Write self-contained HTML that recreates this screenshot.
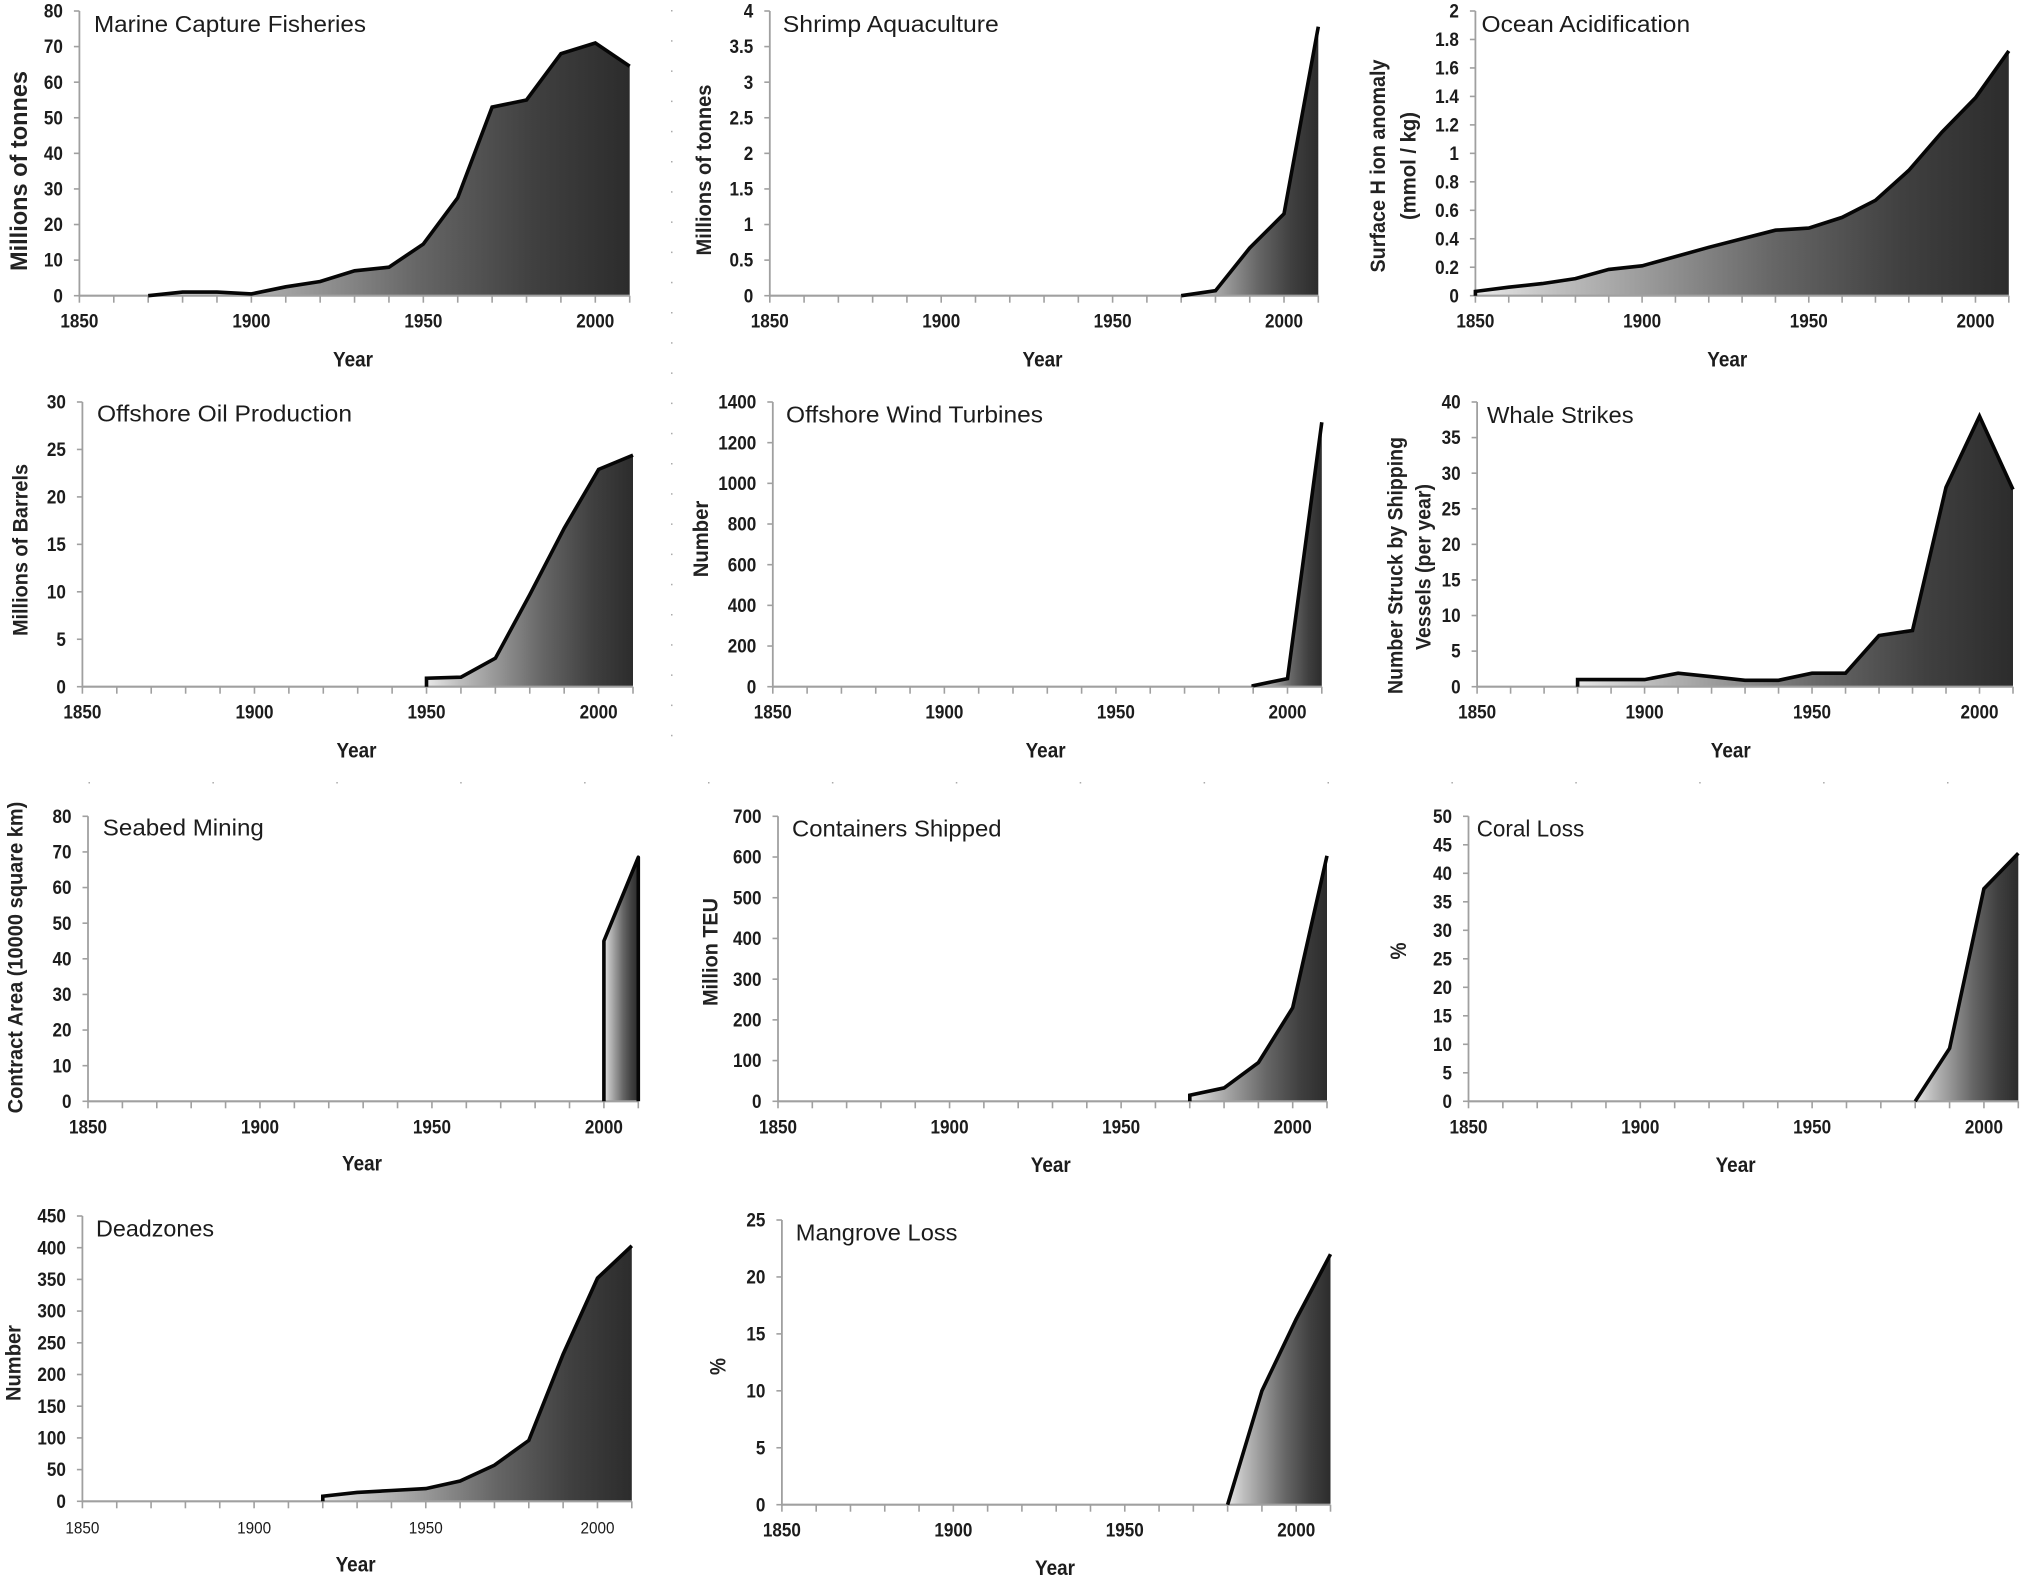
<!DOCTYPE html>
<html lang="en">
<head>
<meta charset="utf-8">
<title>Ocean pressures, 1850–2010</title>
<style>
html,body{margin:0;padding:0;background:#fff;}
svg{display:block;}
text{font-family:"Liberation Sans",Arial,sans-serif;fill:#1c1c1c;}
.panel-title{font-size:23.5px;font-weight:400;fill:#1c1c1c;}
.axis-title{font-weight:700;fill:#222;}
.x-title{font-size:21px;font-weight:700;}
</style>
</head>
<body>
<svg id="figure" xmlns="http://www.w3.org/2000/svg" width="2024" height="1581" viewBox="0 0 2024 1581">
  <rect x="0" y="0" width="2024" height="1581" fill="#ffffff"/>
  <defs>
    <linearGradient id="areaShade" x1="0" y1="0" x2="1" y2="0">
      <stop offset="0" stop-color="#e8e8e8"/>
      <stop offset="0.16" stop-color="#bdbdbd"/>
      <stop offset="0.56" stop-color="#666666"/>
      <stop offset="0.8" stop-color="#404040"/>
      <stop offset="1" stop-color="#2c2c2c"/>
    </linearGradient>
  </defs>
  <g id="specks"></g>

  <g id="chart-fisheries">
    <text class="panel-title" x="94" y="32" textLength="272" lengthAdjust="spacingAndGlyphs">Marine Capture Fisheries</text>
    <text class="axis-title" font-size="24" text-anchor="middle" transform="translate(27,171) rotate(-90)" textLength="200" lengthAdjust="spacingAndGlyphs">Millions of tonnes</text>
    <text class="x-title" text-anchor="middle" x="353" y="366.7" textLength="40" lengthAdjust="spacingAndGlyphs">Year</text>
  </g>

  <g id="chart-shrimp">
    <text class="panel-title" x="782.8" y="32" textLength="216" lengthAdjust="spacingAndGlyphs">Shrimp Aquaculture</text>
    <text class="axis-title" font-size="21" text-anchor="middle" transform="translate(711,170) rotate(-90)" textLength="171" lengthAdjust="spacingAndGlyphs">Millions of tonnes</text>
    <text class="x-title" text-anchor="middle" x="1042.5" y="366.7" textLength="40" lengthAdjust="spacingAndGlyphs">Year</text>
  </g>

  <g id="chart-acid">
    <text class="panel-title" x="1481.5" y="32" textLength="208.6" lengthAdjust="spacingAndGlyphs">Ocean Acidification</text>
    <text class="axis-title" font-size="21" text-anchor="middle" transform="translate(1385,166) rotate(-90)" textLength="213" lengthAdjust="spacingAndGlyphs">Surface H ion anomaly</text>
    <text class="axis-title" font-size="21" text-anchor="middle" transform="translate(1415.5,166) rotate(-90)" textLength="108" lengthAdjust="spacingAndGlyphs">(mmol / kg)</text>
    <text class="x-title" text-anchor="middle" x="1727.3" y="366.7" textLength="40" lengthAdjust="spacingAndGlyphs">Year</text>
  </g>

  <g id="chart-oil">
    <text class="panel-title" x="97" y="421.7" textLength="255" lengthAdjust="spacingAndGlyphs">Offshore Oil Production</text>
    <text class="axis-title" font-size="21" text-anchor="middle" transform="translate(27.3,550) rotate(-90)" textLength="172" lengthAdjust="spacingAndGlyphs">Millions of Barrels</text>
    <text class="x-title" text-anchor="middle" x="356.5" y="757.7" textLength="40" lengthAdjust="spacingAndGlyphs">Year</text>
  </g>

  <g id="chart-wind">
    <text class="panel-title" x="786" y="422.7" textLength="257" lengthAdjust="spacingAndGlyphs">Offshore Wind Turbines</text>
    <text class="axis-title" font-size="21" text-anchor="middle" transform="translate(708,539) rotate(-90)" textLength="76.6" lengthAdjust="spacingAndGlyphs">Number</text>
    <text class="x-title" text-anchor="middle" x="1045.6" y="757.7" textLength="40" lengthAdjust="spacingAndGlyphs">Year</text>
  </g>

  <g id="chart-whale">
    <text class="panel-title" x="1487" y="423" textLength="146.6" lengthAdjust="spacingAndGlyphs">Whale Strikes</text>
    <text class="axis-title" font-size="21" text-anchor="middle" transform="translate(1402.5,565.5) rotate(-90)" textLength="257" lengthAdjust="spacingAndGlyphs">Number Struck by Shipping</text>
    <text class="axis-title" font-size="21" text-anchor="middle" transform="translate(1430.7,567) rotate(-90)" textLength="166" lengthAdjust="spacingAndGlyphs">Vessels (per year)</text>
    <text class="x-title" text-anchor="middle" x="1730.8" y="757.7" textLength="40" lengthAdjust="spacingAndGlyphs">Year</text>
  </g>

  <g id="chart-seabed">
    <text class="panel-title" x="102.8" y="835.7" textLength="161" lengthAdjust="spacingAndGlyphs">Seabed Mining</text>
    <text class="axis-title" font-size="21" text-anchor="middle" transform="translate(22.5,957.5) rotate(-90)" textLength="311.7" lengthAdjust="spacingAndGlyphs">Contract Area (10000 square km)</text>
    <text class="x-title" text-anchor="middle" x="362" y="1170.7" textLength="40" lengthAdjust="spacingAndGlyphs">Year</text>
  </g>

  <g id="chart-containers">
    <text class="panel-title" x="792" y="836.7" textLength="209.5" lengthAdjust="spacingAndGlyphs">Containers Shipped</text>
    <text class="axis-title" font-size="21" text-anchor="middle" transform="translate(717.7,952) rotate(-90)" textLength="108" lengthAdjust="spacingAndGlyphs">Million TEU</text>
    <text class="x-title" text-anchor="middle" x="1050.8" y="1172" textLength="40" lengthAdjust="spacingAndGlyphs">Year</text>
  </g>

  <g id="chart-coral">
    <text class="panel-title" x="1476.7" y="836.7" textLength="107.5" lengthAdjust="spacingAndGlyphs">Coral Loss</text>
    <text class="axis-title" font-size="22" text-anchor="middle" transform="translate(1406,951) rotate(-90)" textLength="17" lengthAdjust="spacingAndGlyphs">%</text>
    <text class="x-title" text-anchor="middle" x="1735.6" y="1172" textLength="40" lengthAdjust="spacingAndGlyphs">Year</text>
  </g>

  <g id="chart-dead">
    <text class="panel-title" x="96" y="1236.7" textLength="118" lengthAdjust="spacingAndGlyphs">Deadzones</text>
    <text class="axis-title" font-size="21" text-anchor="middle" transform="translate(20.4,1363) rotate(-90)" textLength="76" lengthAdjust="spacingAndGlyphs">Number</text>
    <text class="x-title" text-anchor="middle" x="355.6" y="1571.7" textLength="40" lengthAdjust="spacingAndGlyphs">Year</text>
  </g>

  <g id="chart-mangrove">
    <text class="panel-title" x="795.8" y="1240.3" textLength="161.7" lengthAdjust="spacingAndGlyphs">Mangrove Loss</text>
    <text class="axis-title" font-size="22" text-anchor="middle" transform="translate(725.5,1366.5) rotate(-90)" textLength="17" lengthAdjust="spacingAndGlyphs">%</text>
    <text class="x-title" text-anchor="middle" x="1055" y="1575" textLength="40" lengthAdjust="spacingAndGlyphs">Year</text>
  </g>
</svg>

<script>
// Shared x axis
const decadeTicks = [1850,1860,1870,1880,1890,1900,1910,1920,1930,1940,1950,1960,1970,1980,1990,2000,2010];
const yearLabels = [1850,1900,1950,2000];

// Marine Capture Fisheries
const fisheriesYears = [1870,1880,1890,1900,1910,1920,1930,1940,1950,1960,1970,1980,1990,2000,2010];
const fisheriesValues = [0,1,1,0.5,2.5,4,7,8,14.5,27.5,53,55,68,71,64.5];
const fisheriesTicks = ['0','10','20','30','40','50','60','70','80'];

// Shrimp Aquaculture
const shrimpYears = [1970,1980,1990,2000,2010];
const shrimpValues = [0,0.07,0.67,1.15,3.78];
const shrimpTicks = ['0','0.5','1','1.5','2','2.5','3','3.5','4'];

// Ocean Acidification
const acidYears = [1850,1860,1870,1880,1890,1900,1910,1920,1930,1940,1950,1960,1970,1980,1990,2000,2010];
const acidValues = [0.03,0.06,0.085,0.12,0.185,0.21,0.275,0.34,0.4,0.46,0.475,0.55,0.67,0.88,1.15,1.39,1.72];
const acidTicks = ['0','0.2','0.4','0.6','0.8','1','1.2','1.4','1.6','1.8','2'];

// Offshore Oil Production
const oilYears = [1950,1960,1970,1980,1990,2000,2010];
const oilValues = [0.9,1,3,9.7,16.7,22.9,24.4];
const oilTicks = ['0','5','10','15','20','25','30'];

// Offshore Wind Turbines
const windYears = [1990,2000,2010];
const windValues = [5,40,1300];
const windTicks = ['0','200','400','600','800','1000','1200','1400'];

// Whale Strikes
const whaleYears = [1880,1890,1900,1910,1920,1930,1940,1950,1960,1970,1980,1990,2000,2010];
const whaleValues = [1,1,1,1.9,1.4,0.9,0.9,1.9,1.9,7.2,7.9,28,38,27.7];
const whaleTicks = ['0','5','10','15','20','25','30','35','40'];

// Seabed Mining
const seabedYears = [2000,2010];
const seabedValues = [45,68.5];
const seabedTicks = ['0','10','20','30','40','50','60','70','80'];

// Containers Shipped
const containerYears = [1970,1980,1990,2000,2010];
const containerValues = [15,33,95,230,603];
const containerTicks = ['0','100','200','300','400','500','600','700'];

// Coral Loss
const coralYears = [1980,1990,2000,2010];
const coralValues = [0,9.3,37.3,43.5];
const coralTicks = ['0','5','10','15','20','25','30','35','40','45','50'];

// Deadzones
const deadYears = [1920,1930,1940,1950,1960,1970,1980,1990,2000,2010];
const deadValues = [8,14,17,20,32,57,96,232,352,403];
const deadTicks = ['0','50','100','150','200','250','300','350','400','450'];

// Mangrove Loss
const mangroveYears = [1980,1990,2000,2010];
const mangroveValues = [0,10,16.3,22];
const mangroveTicks = ['0','5','10','15','20','25'];

const panels = [
  {id:'chart-fisheries', years:fisheriesYears, values:fisheriesValues, ticks:fisheriesTicks, l:79.4, r:629.7, t:11, b:295.7},
  {id:'chart-shrimp', years:shrimpYears, values:shrimpValues, ticks:shrimpTicks, l:769.8, r:1318.3, t:11, b:295.7},
  {id:'chart-acid', years:acidYears, values:acidValues, ticks:acidTicks, l:1475.4, r:2008.8, t:11, b:295.7},
  {id:'chart-oil', years:oilYears, values:oilValues, ticks:oilTicks, l:82.4, r:633, t:402, b:686.7},
  {id:'chart-wind', years:windYears, values:windValues, ticks:windTicks, l:772.8, r:1321.8, t:402, b:686.7},
  {id:'chart-whale', years:whaleYears, values:whaleValues, ticks:whaleTicks, l:1477.1, r:2013, t:402, b:686.7},
  {id:'chart-seabed', years:seabedYears, values:seabedValues, ticks:seabedTicks, l:88, r:638.3, t:816.3, b:1101.3, closeRight:true},
  {id:'chart-containers', years:containerYears, values:containerValues, ticks:containerTicks, l:778, r:1327, t:816.3, b:1101.3},
  {id:'chart-coral', years:coralYears, values:coralValues, ticks:coralTicks, l:1468.5, r:2018.3, t:816.3, b:1101.3},
  {id:'chart-dead', years:deadYears, values:deadValues, ticks:deadTicks, l:82.4, r:631.8, t:1216, b:1501.3, lightYears:true},
  {id:'chart-mangrove', years:mangroveYears, values:mangroveValues, ticks:mangroveTicks, l:781.9, r:1330.5, t:1220, b:1504.7}
];

const SVG_NS = 'http://www.w3.org/2000/svg';
const AXIS_COLOR = '#a0a0a0';

function svgEl(tag, attrs, parent) {
  const el = document.createElementNS(SVG_NS, tag);
  for (const k in attrs) el.setAttribute(k, attrs[k]);
  parent.appendChild(el);
  return el;
}

function drawPanel(p) {
  const root = document.getElementById(p.id);
  const yMax = Number(p.ticks[p.ticks.length - 1]);
  const xScale = function (year) { return p.l + (year - 1850) / 160 * (p.r - p.l); };
  const yScale = function (v) { return p.b - v / yMax * (p.b - p.t); };

  // area
  const pts = p.years.map(function (yr, i) { return xScale(yr).toFixed(1) + ',' + yScale(p.values[i]).toFixed(1); });
  const x0 = xScale(p.years[0]).toFixed(1);
  const x1 = xScale(p.years[p.years.length - 1]).toFixed(1);
  const base = p.b.toFixed(1);
  const area = svgEl('polygon', {points: x0 + ',' + base + ' ' + pts.join(' ') + ' ' + x1 + ',' + base, fill: 'url(#areaShade)'}, root);
  
  

  // x axis
  const xAxis = svgEl('line', {x1: p.l, x2: p.r, y1: p.b, y2: p.b, stroke: AXIS_COLOR, 'stroke-width': 2.2}, root);
  
  
  decadeTicks.forEach(function (yr) {
    const tick = svgEl('line', {x1: xScale(yr), x2: xScale(yr), y1: p.b, y2: p.b + 7, stroke: AXIS_COLOR, 'stroke-width': 1.6}, root);
    
    
  });
  yearLabels.forEach(function (yr) {
    const lbl = svgEl('text', {
      'text-anchor': 'middle',
      'font-size': p.lightYears ? 17 : 19,
      'font-weight': p.lightYears ? 400 : 700,
      transform: 'translate(' + xScale(yr) + ',' + (p.b + 32) + ') scale(' + (p.lightYears ? 0.9 : 0.9) + ',1)'
    }, root);
    lbl.textContent = yr;
    
    
  });

  // y axis
  const yAxis = svgEl('line', {x1: p.l, x2: p.l, y1: p.t, y2: p.b + 1, stroke: AXIS_COLOR, 'stroke-width': 1.8}, root);
  
  
  p.ticks.forEach(function (label) {
    const y = yScale(Number(label));
    const tick = svgEl('line', {x1: p.l - 5.5, x2: p.l, y1: y, y2: y, stroke: AXIS_COLOR, 'stroke-width': 1.6}, root);
    
    
    const lbl = svgEl('text', {
      'text-anchor': 'end',
      'font-size': 19,
      'font-weight': 700,
      transform: 'translate(' + (p.l - 16.5) + ',' + (y + 6.6) + ') scale(0.9,1)'
    }, root);
    lbl.textContent = label;
    
    
  });

  // outline
  let d = '';
  if (p.values[0] > 0) d = 'M' + x0 + ' ' + base + ' L' + pts[0].replace(',', ' ');
  else d = 'M' + pts[0].replace(',', ' ');
  for (let i = 1; i < pts.length; i++) d += ' L' + pts[i].replace(',', ' ');
  if (p.closeRight) d += ' L' + x1 + ' ' + base;
  const line = svgEl('path', {d: d, fill: 'none', stroke: '#060606', 'stroke-width': 3.6, 'stroke-linejoin': p.closeRight ? 'round' : 'miter', 'stroke-miterlimit': 6}, root);
  
  
}

panels.forEach(drawPanel);

// Faint scan specks left over in the composite figure
const specks = document.getElementById('specks');
for (let y = 10; y < 760; y += 30.2) {
  const dot = svgEl('rect', {x: 671, y: y, width: 1.5, height: 1.5, fill: '#aaaaaa'}, specks);
  
  
}
for (let x = 88.5; x < 1950; x += 123.9) {
  const dot = svgEl('rect', {x: x, y: 782, width: 1.5, height: 1.5, fill: '#aaaaaa'}, specks);
  
  
}
</script>
</body>
</html>
